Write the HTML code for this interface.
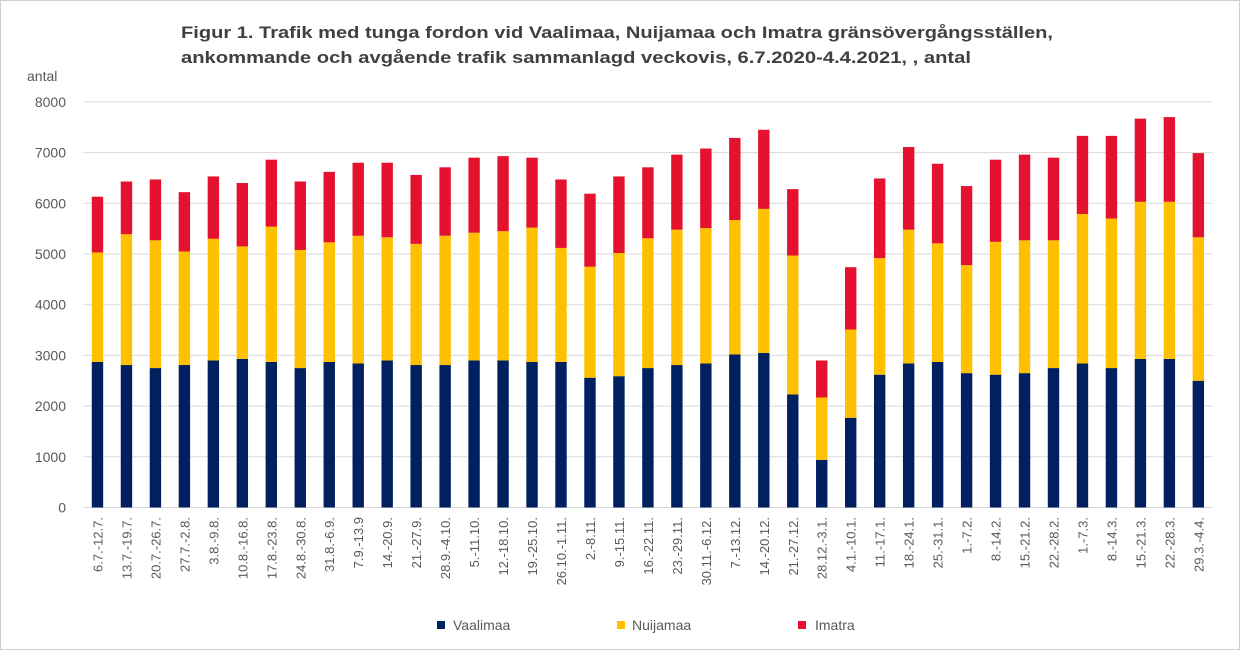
<!DOCTYPE html>
<html><head><meta charset="utf-8"><style>
html,body{margin:0;padding:0;background:#fff;}
svg{display:block;font-family:"Liberation Sans",sans-serif;}
</style></head><body>
<svg id="s" width="1240" height="651" xmlns="http://www.w3.org/2000/svg">
<rect x="0.5" y="0.5" width="1239" height="649" fill="#fff" stroke="#d0d0d0"/>
<text x="181" y="38" font-size="17" font-weight="bold" fill="#404040" textLength="872" lengthAdjust="spacingAndGlyphs">Figur 1. Trafik med tunga  fordon vid Vaalimaa, Nuijamaa och Imatra gränsövergångsställen,</text>
<text x="181" y="63" font-size="17" font-weight="bold" fill="#404040" textLength="790" lengthAdjust="spacingAndGlyphs">ankommande och avgående trafik sammanlagd veckovis, 6.7.2020-4.4.2021,  ,  antal</text>
<text x="27" y="81" font-size="14" fill="#595959">antal</text>
<g id="g"></g>
<rect x="437" y="621" width="8" height="8" fill="#002060"/><text x="453" y="630" font-size="14" fill="#595959">Vaalimaa</text>
<rect x="617" y="621" width="8" height="8" fill="#FFC000"/><text x="632" y="630" font-size="14" fill="#595959">Nuijamaa</text>
<rect x="798" y="621" width="8" height="8" fill="#E4122E"/><text x="815" y="630" font-size="14" fill="#595959">Imatra</text>
</svg>
<script>
var d=[[2870,5030,6130],[2810,5390,6430],[2750,5270,6470],[2810,5050,6220],[2900,5300,6530],[2930,5150,6400],[2870,5540,6860],[2750,5080,6430],[2870,5230,6620],[2840,5360,6800],[2900,5330,6800],[2810,5200,6560],[2810,5360,6710],[2900,5420,6900],[2900,5450,6930],[2870,5520,6900],[2870,5120,6470],[2560,4750,6190],[2590,5020,6530],[2750,5310,6710],[2810,5480,6960],[2840,5510,7080],[3020,5670,7290],[3050,5890,7450],[2230,4970,6280],[940,2170,2900],[1770,3510,4740],[2620,4920,6490],[2840,5480,7110],[2870,5210,6780],[2650,4780,6340],[2620,5240,6860],[2650,5270,6960],[2750,5270,6900],[2840,5790,7330],[2750,5700,7330],[2930,6030,7670],[2930,6030,7700],[2500,5330,6990]];
var L=["6.7.-12.7.","13.7.-19.7.","20.7.-26.7.","27.7.-2.8.","3.8.-9.8.","10.8.-16.8.","17.8.-23.8.","24.8.-30.8.","31.8.-6.9.","7.9.-13.9","14.-20.9.","21.-27.9.","28.9.-4.10.","5.-11.10.","12.-18.10.","19.-25.10.","26.10.-1.11.","2.-8.11.","9.-15.11.","16.-22.11.","23.-29.11.","30.11.-6.12.","7.-13.12.","14.-20.12.","21.-27.12.","28.12.-3.1.","4.1.-10.1.","11.-17.1.","18.-24.1.","25.-31.1.","1.-7.2.","8.-14.2.","15.-21.2.","22.-28.2.","1.-7.3.","8.-14.3.","15.-21.3.","22.-28.3.","29.3.-4.4."];
var y0=507.5,k=50.7/1000,h='';
for(var i=0;i<=8;i++){var y=y0-i*1000*k;h+='<line x1="83" x2="1213" y1="'+y+'" y2="'+y+'" stroke="#d9d9d9"/><text x="66" y="'+(y+5)+'" font-size="14" fill="#595959" text-anchor="end">'+(i*1000)+'</text>';}
var w=28.97;
d.forEach(function(v,i){var c=83+w*(i+0.5),x=c-5.7,cols=['#002060','#FFC000','#E4122E'],p=0;
for(var j=0;j<3;j++){h+='<rect x="'+x+'" width="11.4" y="'+(y0-v[j]*k)+'" height="'+((v[j]-p)*k)+'" fill="'+cols[j]+'"/>';p=v[j];}
h+='<text transform="translate('+(c+5)+',517) rotate(-90)" font-size="13" fill="#595959" text-anchor="end">'+L[i]+'</text>';});
document.getElementById('g').innerHTML=h;
</script>
</body></html>
